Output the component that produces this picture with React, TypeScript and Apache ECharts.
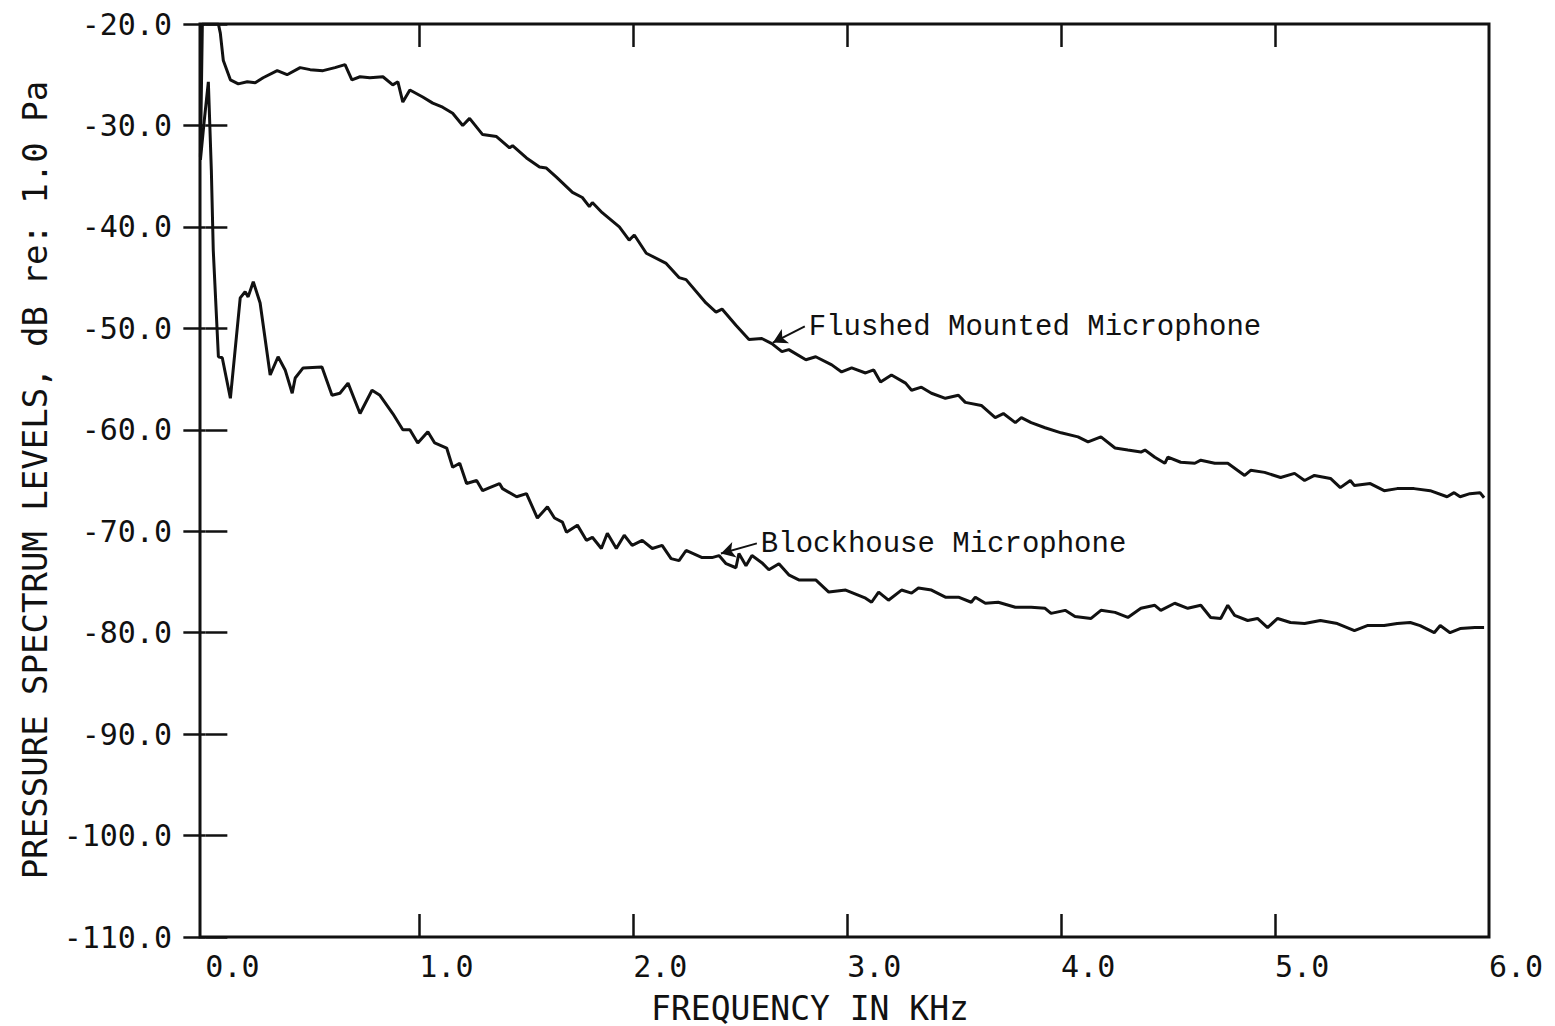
import React, { useEffect, useRef } from "react";
import * as echarts from "echarts";

// Flushed mounted microphone (kHz, dB re 1.0 Pa)
const flushedFreq = [
  -0.023, -0.014, 0.061, 0.07, 0.084, 0.117, 0.154, 0.196, 0.233, 0.27, 0.336, 0.382, 0.443, 0.49, 0.55, 0.606,
  0.653, 0.685, 0.723, 0.769, 0.83, 0.876, 0.9, 0.923, 0.956, 1.016, 1.063, 1.109, 1.156, 1.203, 1.235, 1.296,
  1.361, 1.422, 1.436, 1.501, 1.562, 1.594, 1.641, 1.716, 1.762, 1.795, 1.809, 1.855, 1.935, 1.981, 2.005, 2.061,
  2.154, 2.214, 2.247, 2.34, 2.387, 2.415, 2.48, 2.541, 2.601, 2.648, 2.695, 2.727, 2.807, 2.853, 2.928, 2.974,
  3.021, 3.086, 3.124, 3.156, 3.207, 3.273, 3.301, 3.347, 3.394, 3.459, 3.52, 3.552, 3.627, 3.692, 3.73, 3.786,
  3.814, 3.86, 3.925, 4.0, 4.079, 4.126, 4.186, 4.252, 4.312, 4.373, 4.392, 4.438, 4.485, 4.499, 4.559, 4.625,
  4.653, 4.718, 4.779, 4.858, 4.886, 4.951, 5.026, 5.091, 5.138, 5.184, 5.259, 5.305, 5.352, 5.371, 5.445, 5.51,
  5.571, 5.65, 5.725, 5.804, 5.837, 5.865, 5.911, 5.958, 5.977,
];
const flushedLevel = [
  -33.1, -20.0, -20.0, -20.9, -23.6, -25.5, -25.9, -25.7, -25.8, -25.3, -24.6, -25.0, -24.3, -24.5, -24.6, -24.3,
  -24.0, -25.5, -25.2, -25.3, -25.2, -26.0, -25.7, -27.7, -26.5, -27.2, -27.8, -28.2, -28.8, -30.0, -29.3, -30.9,
  -31.1, -32.2, -32.0, -33.2, -34.1, -34.2, -35.1, -36.6, -37.1, -38.0, -37.6, -38.6, -40.0, -41.3, -40.8, -42.6,
  -43.6, -45.0, -45.2, -47.5, -48.4, -48.1, -49.7, -51.1, -51.0, -51.5, -52.3, -52.1, -53.1, -52.8, -53.6, -54.3,
  -53.9, -54.4, -54.1, -55.3, -54.6, -55.4, -56.1, -55.8, -56.4, -56.9, -56.6, -57.3, -57.6, -58.8, -58.4, -59.3,
  -58.8, -59.3, -59.8, -60.3, -60.7, -61.2, -60.7, -61.8, -62.0, -62.2, -62.0, -62.7, -63.3, -62.7, -63.2, -63.3,
  -63.0, -63.3, -63.3, -64.5, -64.0, -64.2, -64.7, -64.3, -65.0, -64.5, -64.8, -65.7, -65.0, -65.5, -65.3, -66.0,
  -65.8, -65.8, -66.0, -66.6, -66.2, -66.6, -66.3, -66.2, -66.7,
];

// Blockhouse microphone (kHz, dB re 1.0 Pa)
const blockFreq = [
  -0.023, -0.005, 0.014, 0.028, 0.037, 0.061, 0.079, 0.117, 0.163, 0.186, 0.2, 0.224, 0.256, 0.303, 0.34, 0.373,
  0.406, 0.42, 0.457, 0.545, 0.592, 0.629, 0.667, 0.723, 0.779, 0.816, 0.876, 0.923, 0.956, 0.993, 1.04, 1.072,
  1.128, 1.156, 1.189, 1.221, 1.268, 1.296, 1.329, 1.375, 1.389, 1.455, 1.501, 1.552, 1.599, 1.632, 1.669, 1.688,
  1.739, 1.781, 1.809, 1.851, 1.879, 1.921, 1.958, 1.995, 2.042, 2.089, 2.135, 2.177, 2.214, 2.247, 2.322, 2.368,
  2.401, 2.434, 2.48, 2.494, 2.527, 2.555, 2.601, 2.634, 2.681, 2.727, 2.774, 2.853, 2.914, 2.993, 3.086, 3.114,
  3.147, 3.193, 3.254, 3.301, 3.333, 3.394, 3.459, 3.52, 3.58, 3.599, 3.646, 3.706, 3.786, 3.86, 3.925, 3.953,
  4.019, 4.065, 4.14, 4.186, 4.252, 4.312, 4.373, 4.438, 4.466, 4.531, 4.592, 4.653, 4.699, 4.746, 4.779, 4.811,
  4.872, 4.918, 4.965, 5.012, 5.072, 5.138, 5.212, 5.291, 5.371, 5.431, 5.51, 5.571, 5.632, 5.678, 5.744, 5.772,
  5.818, 5.865, 5.934, 5.977,
];
const blockLevel = [
  -33.4, -29.5, -25.7, -34.4, -42.3, -52.8, -52.9, -56.9, -47.0, -46.4, -46.9, -45.4, -47.5, -54.6, -52.8, -54.1,
  -56.4, -54.9, -53.9, -53.8, -56.6, -56.4, -55.4, -58.4, -56.1, -56.6, -58.4, -60.0, -60.0, -61.3, -60.2, -61.3,
  -61.8, -63.7, -63.3, -65.3, -65.0, -66.0, -65.7, -65.3, -65.8, -66.6, -66.3, -68.7, -67.6, -68.7, -69.1, -70.1,
  -69.4, -70.9, -70.6, -71.7, -70.2, -71.7, -70.4, -71.4, -70.9, -71.7, -71.4, -72.7, -72.9, -71.9, -72.6, -72.6,
  -72.4, -73.2, -73.6, -72.2, -73.4, -72.4, -73.1, -73.8, -73.2, -74.3, -74.8, -74.8, -76.0, -75.8, -76.6, -77.0,
  -76.0, -76.8, -75.8, -76.1, -75.6, -75.8, -76.5, -76.5, -77.0, -76.5, -77.1, -77.0, -77.5, -77.5, -77.6, -78.1,
  -77.8, -78.4, -78.6, -77.8, -78.0, -78.5, -77.6, -77.3, -77.8, -77.1, -77.6, -77.3, -78.5, -78.6, -77.3, -78.3,
  -78.8, -78.6, -79.5, -78.6, -79.0, -79.1, -78.8, -79.1, -79.8, -79.3, -79.3, -79.1, -79.0, -79.3, -80.0, -79.3,
  -80.0, -79.6, -79.5, -79.5,
];

const xLabelValues = [0, 1, 2, 3, 4, 5, 6];
const xTickValues = [1, 2, 3, 4, 5];
const yMin = -110;
const yMax = -20;
const yStep = 10;

const flushedLabel = "Flushed Mounted Microphone";
const blockLabel = "Blockhouse Microphone";
// annotation anchors: [text start, arrow tail, arrow tip]
const flushedNote = { text: [2.811, -49.9], tail: [2.802, -49.8], tip: [2.653, -51.4] };
const blockNote = { text: [2.587, -71.3], tail: [2.578, -71.2], tip: [2.41, -72.2] };

const xTitle = "FREQUENCY IN KHz";
const yTitle = "PRESSURE SPECTRUM LEVELS, dB re: 1.0 Pa";

const INK = "#111";
const MONO = '"DejaVu Sans Mono", monospace';
const COURIER = '"Liberation Mono", "Courier New", monospace';

function zip(xs: number[], ys: number[]) {
  return xs.map((x, i) => [x, ys[i]]);
}

function note(n: { text: number[]; tail: number[]; tip: number[] }, label: string) {
  return {
    markPoint: {
      symbol: "circle",
      symbolSize: 0.1,
      itemStyle: { color: "transparent" },
      silent: true,
      data: [{ coord: n.text }],
      label: {
        show: true,
        position: "right",
        distance: 2,
        formatter: label,
        color: INK,
        fontFamily: COURIER,
        fontSize: 29,
      },
    },
    markLine: {
      silent: true,
      symbolSize: [12, 14],
      label: { show: false },
      lineStyle: { color: INK, width: 2, type: "solid", curveness: 0.35 },
      data: [[{ coord: n.tail, symbol: "none" }, { coord: n.tip, symbol: "arrow" }]],
    },
  };
}

export default function App() {
  const ref = useRef<HTMLDivElement>(null);
  useEffect(() => {
    const chart = echarts.init(ref.current!, null, { renderer: "svg" });
    const tickStyle = { color: INK, width: 2.5 };
    const xBase = {
      type: "value",
      min: -0.025,
      max: 6,
      axisLine: { show: false },
      splitLine: { show: false },
    };
    const yBase = {
      type: "value",
      min: yMin,
      max: yMax,
      interval: yStep,
      axisLine: { show: false },
      splitLine: { show: false },
    };
    chart.setOption({
      animation: false,
      backgroundColor: "#fff",
      grid: {
        left: 200,
        right: 66,
        top: 24,
        bottom: 89,
        show: true,
        borderColor: INK,
        borderWidth: 3,
        backgroundColor: "transparent",
      },
      xAxis: [
        {
          ...xBase,
          position: "bottom",
          axisTick: { show: true, inside: true, length: 23, lineStyle: tickStyle, customValues: xTickValues },
          axisLabel: {
            show: true,
            customValues: xLabelValues,
            formatter: (v: number) => v.toFixed(1),
            align: "left",
            margin: 14,
            color: INK,
            fontFamily: MONO,
            fontSize: 30,
          },
        },
        {
          ...xBase,
          position: "top",
          axisTick: { show: true, inside: true, length: 23, lineStyle: tickStyle, customValues: xTickValues },
          axisLabel: { show: false },
        },
      ],
      yAxis: [
        {
          ...yBase,
          position: "left",
          axisTick: { show: true, inside: true, length: 22, lineStyle: tickStyle },
          axisLabel: {
            show: true,
            formatter: (v: number) => v.toFixed(1),
            margin: 28,
            color: INK,
            fontFamily: MONO,
            fontSize: 30,
          },
        },
        {
          ...yBase,
          position: "right",
          axisTick: { show: true, inside: true, length: 22, lineStyle: tickStyle },
          axisLabel: { show: false },
        },
      ],
      graphic: [
        {
          type: "text",
          x: 810,
          y: 1008,
          style: {
            text: xTitle,
            fill: INK,
            fontFamily: MONO,
            fontSize: 33,
            align: "center",
            verticalAlign: "middle",
          },
        },
        {
          type: "text",
          x: 35,
          y: 480,
          rotation: Math.PI / 2,
          style: {
            text: yTitle,
            fill: INK,
            fontFamily: MONO,
            fontSize: 34,
            align: "center",
            verticalAlign: "middle",
          },
        },
      ],
      series: [
        {
          name: flushedLabel,
          type: "line",
          data: zip(flushedFreq, flushedLevel),
          showSymbol: false,
          lineStyle: { color: INK, width: 3 },
          itemStyle: { color: INK },
          clip: true,
          ...note(flushedNote, flushedLabel),
        },
        {
          name: blockLabel,
          type: "line",
          data: zip(blockFreq, blockLevel),
          showSymbol: false,
          lineStyle: { color: INK, width: 3 },
          itemStyle: { color: INK },
          clip: true,
          ...note(blockNote, blockLabel),
        },
      ],
    });
    return () => chart.dispose();
  }, []);
  return (
    <div
      ref={ref}
      style={{ position: "fixed", left: 0, top: 0, width: 1555, height: 1026, background: "#fff" }}
    />
  );
}
